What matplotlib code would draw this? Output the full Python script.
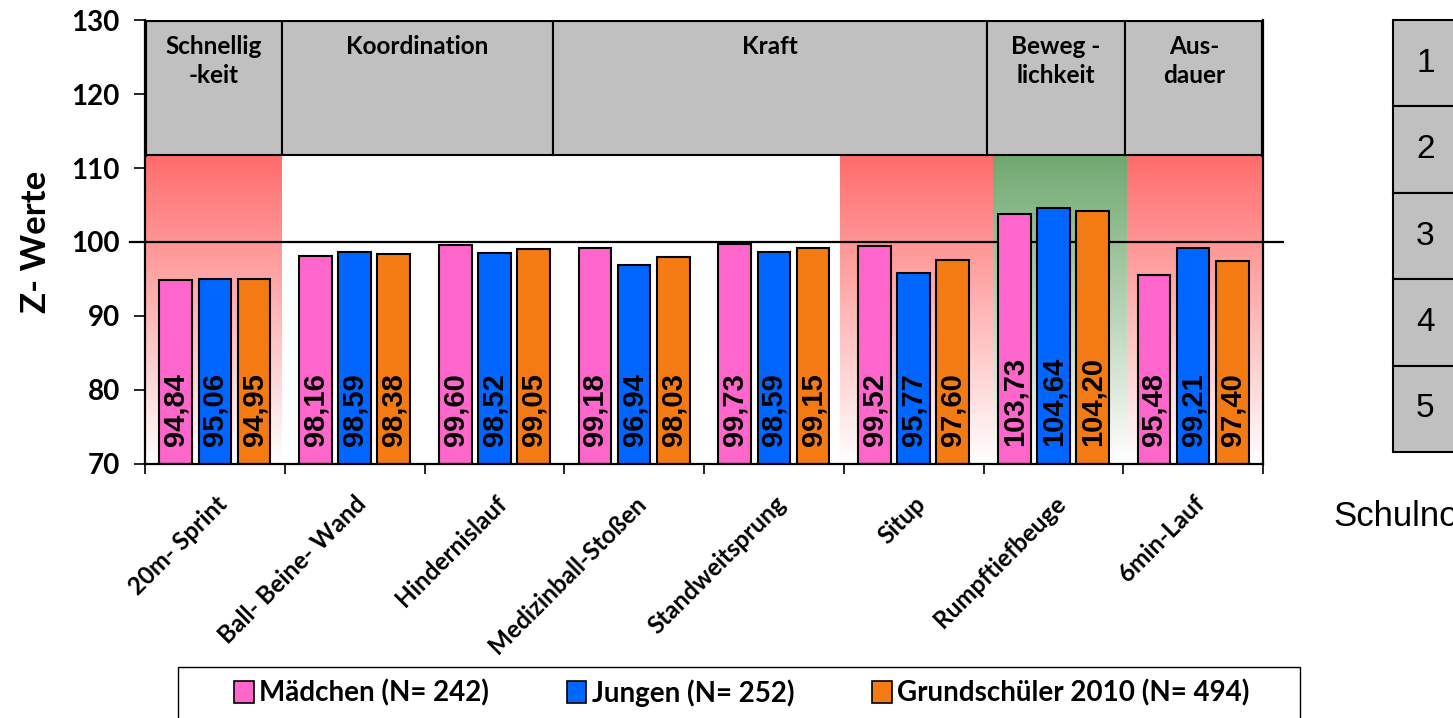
import numpy as np
import matplotlib
matplotlib.use("Agg")
import matplotlib.pyplot as plt
from matplotlib.patches import Rectangle, Patch

# data
uebungen = ["20m- Sprint", "Ball- Beine- Wand", "Hindernislauf", "Medizinball-Stoßen",
            "Standweitsprung", "Situp", "Rumpftiefbeuge", "6min-Lauf"]
maedchen = [94.84, 98.16, 99.60, 99.18, 99.73, 99.52, 103.73, 95.48]
jungen = [95.06, 98.59, 98.52, 96.94, 98.59, 95.77, 104.64, 99.21]
gesamt = [94.95, 98.38, 99.05, 98.03, 99.15, 97.60, 104.20, 97.40]
serien = ["Mädchen (N= 242)", "Jungen (N= 252)", "Grundschüler 2010 (N= 494)"]
farben = ["#FF66CC", "#0066FF", "#F47A14"]

# header categories and their borders in group units
kategorien = ["Schnellig\n-keit", "Koordination", "Kraft", "Beweg -\nlichkeit", "Aus-\ndauer"]
kat_grenzen = [-0.5, 0.48, 2.42, 5.525, 6.51, 7.5]

# shaded bands: (x from, x to, colour)
baender = [(-0.5, 0.48, "#FF6B6B"), (4.47, 5.57, "#FF6B6B"),
           (5.57, 6.53, "#6FA86F"), (6.53, 7.5, "#FF6B6B")]

noten = ["1", "2", "3", "4", "5"]

plt.rcParams["font.family"] = ["Lato", "DejaVu Sans"]
plt.rcParams["font.weight"] = "bold"

fig = plt.figure(figsize=(14.53, 7.18), dpi=100)
ax = fig.add_axes([145 / 1453, 1 - 464 / 718, (1263 - 145) / 1453, (464 - 20) / 718])

ymin, ymax, header_bottom = 70, 130, 111.8
x = np.arange(len(uebungen))

# gradient bands
grad = np.linspace(0, 1, 256).reshape(-1, 1)
for x0, x1, c in baender:
    rgb = np.array(matplotlib.colors.to_rgb(c))
    img = np.ones((256, 1, 3)) * (1 - grad[..., None]) + rgb * grad[..., None]
    ax.imshow(img, extent=(x0, x1, ymin, header_bottom), origin="lower",
              aspect="auto", zorder=0, interpolation="bilinear")

# line at 100
ax.plot([-0.61, 7.64], [100, 100], color="black", lw=1.6, zorder=1, clip_on=False)

# bars
off = 0.28
w = 0.234
for i, (vals, c) in enumerate(zip([maedchen, jungen, gesamt], farben)):
    pos = x + (i - 1) * off
    ax.bar(pos, np.array(vals) - ymin, w, bottom=ymin, color=c, edgecolor="black",
           lw=1.5, zorder=2, label=serien[i])
    for p, v in zip(pos, vals):
        ax.text(p, 72.4, f"{v:.2f}".replace(".", ","), rotation=90, ha="center",
                va="bottom", fontsize=21, fontweight="bold",
                family=["Liberation Sans Narrow", "Liberation Sans"], zorder=3)

# header boxes
for lab, a, b in zip(kategorien, kat_grenzen[:-1], kat_grenzen[1:]):
    ax.add_patch(Rectangle((a, header_bottom), b - a, ymax - header_bottom,
                           facecolor="#C0C0C0", edgecolor="black", lw=1.5, zorder=4))
    ax.text((a + b) / 2, 128.0, lab, ha="center", va="top", fontsize=17.5,
            fontweight="bold", linespacing=1.3, zorder=5)
ax.plot([-0.5, -0.5, 7.5, 7.5], [header_bottom, ymax, ymax, header_bottom],
        color="black", lw=3, zorder=6, solid_joinstyle="miter")

ax.set_xlim(-0.5, 7.5)
ax.set_ylim(ymin, ymax)
ax.set_yticks(range(70, 131, 10))
ax.tick_params(axis="y", labelsize=20, length=8, width=1.2, direction="out", pad=10)
ax.set_xticks(np.arange(-0.5, 7.6, 1))
ax.set_xticklabels([])
ax.tick_params(axis="x", length=7, width=1.2, direction="out")
for t in ax.get_yticklabels():
    t.set_fontweight("bold")
for lab, p in zip(uebungen, x):
    ax.annotate(lab, (p + 0.0, ymin), xytext=(0, -20), textcoords="offset points",
                rotation=45, ha="right", va="top", rotation_mode="anchor",
                fontsize=17.5, fontweight="bold")
for s in ["left", "right", "bottom"]:
    ax.spines[s].set_linewidth(1.6)
ax.spines["top"].set_visible(False)
ax.set_ylabel("Z- Werte", fontsize=25, fontweight="bold", labelpad=14)

# legend with its own frame
fig.patches.append(Rectangle((178 / 1453, -0.01), (1300 - 178) / 1453, 0.01 + 51 / 718,
                             transform=fig.transFigure, facecolor="white",
                             edgecolor="black", lw=1.0))
handles = [Patch(facecolor=c, edgecolor="black", lw=1.2) for c in farben]
leg = fig.legend(handles, serien, loc="center", ncol=3,
                 bbox_to_anchor=(742 / 1453, 1 - 693 / 718), frameon=False,
                 fontsize=20, handlelength=0.7, handleheight=0.85,
                 handletextpad=0.2, columnspacing=2.8, borderpad=0.2)
for t in leg.get_texts():
    t.set_fontweight("bold")

# grade scale on the right
ax2 = fig.add_axes([1393 / 1453, 1 - 452 / 718, 120 / 1453, (452 - 20) / 718])
ax2.set_xlim(0, 1)
ax2.set_ylim(len(noten), 0)
ax2.axis("off")
for i, n in enumerate(noten):
    ax2.add_patch(Rectangle((0, i), 1, 1, facecolor="#C0C0C0", edgecolor="black",
                            lw=1.5, clip_on=False))
    ax2.text(0.27, i + 0.5, n, ha="center", va="center", fontsize=24,
             fontweight="normal", family="Liberation Sans")
fig.text(1333 / 1453, 1 - 516 / 718, "Schulnoten", fontsize=25, fontweight="normal",
         family="Liberation Sans", va="center")

fig.savefig("out.png", dpi=100)
